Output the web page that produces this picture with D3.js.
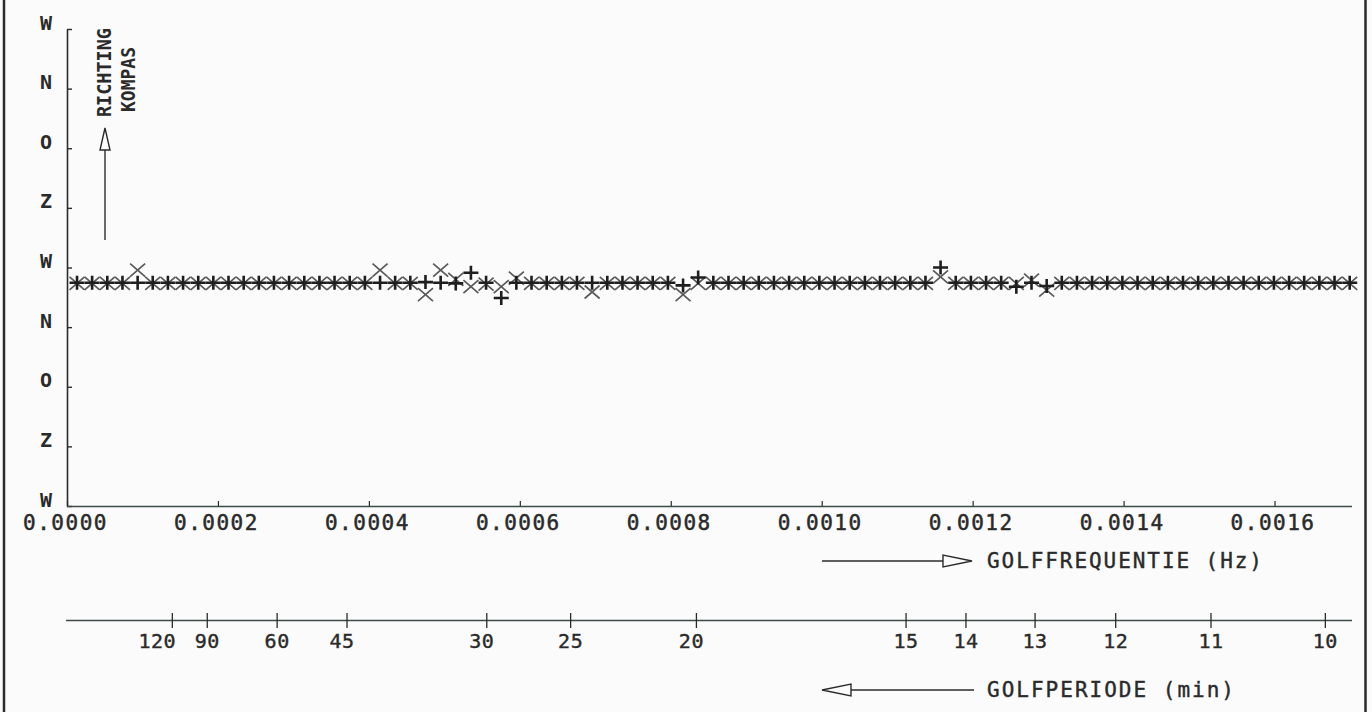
<!DOCTYPE html>
<html><head><meta charset="utf-8">
<script src="https://cdn.jsdelivr.net/npm/d3@7/dist/d3.min.js"></script>
<style>
html,body{margin:0;padding:0;background:#fbfbfb;}
svg{display:block;}
text{font-family:"DejaVu Sans Mono",monospace;fill:#2a2a2a;}
</style></head>
<body>
<svg id="c" width="1372" height="712"></svg>
<script>
// frequencies of the spectral estimates, in units of 1e-5 Hz
const freq1e5 = [
  1.33, 3.33, 5.34, 7.35, 9.36, 11.36, 13.37, 15.38, 17.39, 19.39,
  21.40, 23.41, 25.42, 27.42, 29.43, 31.44, 33.45, 35.45, 37.46, 39.47,
  41.48, 43.48, 45.49, 47.50, 49.51, 51.51, 53.52, 55.53, 57.54, 59.54,
  61.55, 63.56, 65.57, 67.57, 69.58, 71.59, 73.60, 75.60, 77.61, 79.62,
  81.63, 83.63, 85.64, 87.65, 89.66, 91.66, 93.67, 95.68, 97.69, 99.69,
  101.70, 103.71, 105.72, 107.72, 109.73, 111.74, 113.75, 115.75, 117.76, 119.77,
  121.78, 123.78, 125.79, 127.80, 129.81, 131.81, 133.82, 135.83, 137.84, 139.84,
  141.85, 143.86, 145.87, 147.87, 149.88, 151.89, 153.90, 155.90, 157.91, 159.92,
  161.93, 163.93, 165.94, 167.95, 169.96
];
// compass direction (degrees) for the "+" series
const dirPlus = [
  293,293,293,293,293,293,293,293,293,293,
  293,293,293,293,293,293,293,293,293,293,
  293,293,293,292,293,294,278,293,316,293,
  293,293,293,293,293,293,293,293,293,293,
  297,285,293,293,293,293,293,293,293,293,
  293,293,293,293,293,293,293,270,293,293,
  293,293,299,293,298,293,293,293,293,293,
  293,293,293,293,293,293,293,293,293,293,
  293,293,293,293,293
];
// compass direction (degrees) for the "x" series
const dirCross = [
  294,294,294,294,274,294,294,294,294,294,
  294,294,294,294,294,294,294,294,294,294,
  274,294,294,311,274,288,299,295,299,286,
  294,294,294,294,307,294,294,294,294,294,
  311,294,294,294,294,294,294,294,294,294,
  294,294,294,294,294,294,294,284,294,294,
  294,294,294,289,304,294,294,294,294,294,
  294,294,294,294,294,294,294,294,294,294,
  294,294,294,294,294
];
const compassTicks = [-90, 0, 90, 180, 270, 360, 450, 540, 630];
const compassLabels = ["W","N","O","Z","W","N","O","Z","W"];
const freqTicks = [0, 0.0002, 0.0004, 0.0006, 0.0008, 0.0010, 0.0012, 0.0014, 0.0016];
const periodTicks = [120, 90, 60, 45, 30, 25, 20, 15, 14, 13, 12, 11, 10]; // minutes

const svg = d3.select("#c");
const ink = "#2b2b2b";

const x = d3.scaleLinear().domain([0, 0.0017]).range([67, 1350]);
const y = d3.scaleLinear().domain([-90, 630]).range([29, 506]);

// frame sides
svg.append("line").attr("x1",4).attr("x2",4).attr("y1",0).attr("y2",712).attr("stroke",ink).attr("stroke-width",2.5);
svg.append("line").attr("x1",1365.5).attr("x2",1365.5).attr("y1",0).attr("y2",712).attr("stroke",ink).attr("stroke-width",2.5);

// Y axis (compass)
const gy = svg.append("g").attr("transform","translate(67,0)")
  .call(d3.axisLeft(y).tickValues(compassTicks).tickSize(-5).tickSizeOuter(0)
        .tickFormat((d,i)=>compassLabels[i]));
gy.select(".domain").attr("stroke",ink).attr("stroke-width",1.6);
gy.selectAll(".tick line").attr("stroke",ink).attr("stroke-width",1.4);
gy.selectAll(".tick text").attr("x",-21).attr("dy","0px").attr("text-anchor","middle")
  .style("font-family","'DejaVu Sans Mono',monospace").style("font-weight","bold")
  .style("font-size","20px").attr("fill",ink);

// X axis (frequency)
const gx = svg.append("g").attr("transform","translate(0,506)")
  .call(d3.axisBottom(x).tickValues(freqTicks).tickSize(-5).tickSizeOuter(0)
        .tickFormat(d3.format(".4f")));
gx.select(".domain").attr("stroke","#3d4a48").attr("stroke-width",1.6).attr("d","M67,0.5H1352");
gx.selectAll(".tick line").attr("stroke",ink).attr("stroke-width",1.2);
gx.selectAll(".tick text").attr("y",24).attr("dy",0).attr("dx","-2px")
  .style("font-family","'DejaVu Sans Mono',monospace").style("font-size","21px")
  .style("letter-spacing","1.5px").attr("fill",ink).attr("stroke",ink).attr("stroke-width",0.5);

// Period axis (same frequency scale)
const gp = svg.append("g").attr("transform","translate(0,620)")
  .call(d3.axisBottom(x).tickValues(periodTicks.map(t => 1/(60*t))).tickSize(8).tickSizeOuter(0)
        .tickFormat((d,i)=>String(periodTicks[i])));
gp.select(".domain").attr("stroke","#3d4a48").attr("stroke-width",1.6).attr("d","M66,0.5H1352");
gp.selectAll(".tick line").attr("y1",-7).attr("y2",8).attr("stroke",ink).attr("stroke-width",1.3);
gp.selectAll(".tick text").attr("y",28).attr("dy",0)
  .attr("dx",(d,i)=> periodTicks[i]===120 ? -15 : (periodTicks[i]===30||periodTicks[i]===20||periodTicks[i]===45 ? -5 : 0))
  .style("font-family","'DejaVu Sans Mono',monospace").style("font-size","20px")
  .style("letter-spacing","0.5px").attr("fill",ink).attr("stroke",ink).attr("stroke-width",0.4);

// data markers
const pts = freq1e5.map((f,i)=>({f: f*1e-5, p: dirPlus[i], c: dirCross[i]}));
svg.append("g").selectAll("path").data(pts).join("path")
  .attr("transform", d=>`translate(${x(d.f)},${y(d.c)})`)
  .attr("d","M-7.5,-6.5L7.5,6.5M-7.5,6.5L7.5,-6.5")
  .attr("stroke","#5a5a5a").attr("stroke-width",1.7).attr("fill","none");
svg.append("g").selectAll("path").data(pts).join("path")
  .attr("transform", d=>`translate(${x(d.f)},${y(d.p)})`)
  .attr("d","M-7.5,0H7.5M0,-7V7")
  .attr("stroke","#1e1e1e").attr("stroke-width",2.6).attr("fill","none");

// arrow helper
function arrow(x1,y1,x2,y2){
  const g = svg.append("g");
  const dx=x2-x1, dy=y2-y1, L=Math.hypot(dx,dy), ux=dx/L, uy=dy/L;
  const hl=29, hw=6;
  const bx=x2-ux*hl, by=y2-uy*hl;
  g.append("line").attr("x1",x1).attr("y1",y1).attr("x2",bx).attr("y2",by).attr("stroke",ink).attr("stroke-width",1.4);
  g.append("path").attr("d",`M${x2},${y2}L${bx-uy*hw},${by+ux*hw}L${bx+uy*hw},${by-ux*hw}Z`)
    .attr("fill","none").attr("stroke",ink).attr("stroke-width",1.4);
}
arrow(822,561,972,561);
arrow(974,690,822,690);
// compass arrow
(function(){
  const g = svg.append("g");
  g.append("line").attr("x1",105).attr("x2",105).attr("y1",240).attr("y2",150).attr("stroke",ink).attr("stroke-width",1.4);
  g.append("path").attr("d","M105,128L100,150L110,150Z").attr("fill","none").attr("stroke",ink).attr("stroke-width",1.4);
})();

// axis titles
svg.append("text").attr("x",987).attr("y",568).text("GOLFFREQUENTIE (Hz)")
  .attr("textLength",275).attr("lengthAdjust","spacing")
  .style("font-size","21px").attr("fill",ink).attr("stroke",ink).attr("stroke-width",0.4);
svg.append("text").attr("x",987).attr("y",697).text("GOLFPERIODE (min)")
  .attr("textLength",247).attr("lengthAdjust","spacing")
  .style("font-size","21px").attr("fill",ink).attr("stroke",ink).attr("stroke-width",0.4);
svg.append("text").attr("transform","translate(111,117) rotate(-90)").text("RICHTING")
  .attr("textLength",89).attr("lengthAdjust","spacingAndGlyphs")
  .style("font-size","19px").style("font-weight","bold").attr("fill",ink);
svg.append("text").attr("transform","translate(134.5,112) rotate(-90)").text("KOMPAS")
  .attr("textLength",65).attr("lengthAdjust","spacingAndGlyphs")
  .style("font-size","19px").style("font-weight","bold").attr("fill",ink);
</script>
</body></html>
